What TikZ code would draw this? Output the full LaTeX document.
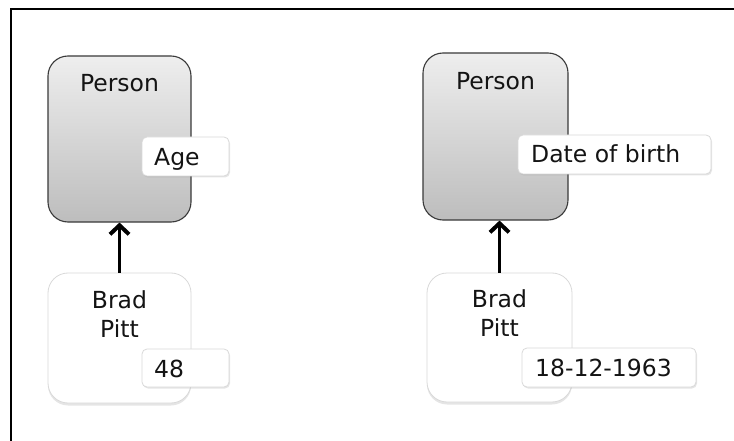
\documentclass[tikz,border=0pt]{standalone}
\usepackage{fontspec}
\setmainfont{DejaVu Sans}
\usetikzlibrary{shadows,arrows.meta}
\definecolor{boxtop}{HTML}{EEEEEE}
\definecolor{boxbot}{HTML}{BDBDBD}
\definecolor{edgegrey}{HTML}{3A3A3A}
\definecolor{softedge}{HTML}{D9D9D9}
\definecolor{inkblack}{HTML}{141414}
\begin{document}
\begin{tikzpicture}[x=1pt,y=-1pt,
  classbox/.style={draw=edgegrey, line width=1.1pt, rounded corners=20pt,
    top color=boxtop, bottom color=boxbot, inner sep=0pt},
  instbox/.style={draw=softedge, line width=0.8pt, rounded corners=20pt, fill=white,
    inner sep=0pt, drop shadow={opacity=0.2, shadow xshift=0pt, shadow yshift=-2.5pt}},
  attrbox/.style={draw=softedge, line width=0.8pt, rounded corners=5pt, fill=white,
    inner sep=0pt, drop shadow={opacity=0.2, shadow xshift=1pt, shadow yshift=-1.5pt}},
  lbl/.style={font=\fontsize{23.5}{29}\selectfont, text=inkblack, inner sep=0pt},
  isa/.style={line width=3.5pt, draw=black,
    -{Straight Barb[length=9pt,width=19pt,line width=4pt 0]}},
  frameline/.style={line width=2pt, draw=black}
]
\useasboundingbox (0,0) rectangle (734,441);
\fill[white] (0,0) rectangle (734,441);

% frame
\coordinate (ftr) at (734,9);
\coordinate (ftl) at (10.5,9);
\coordinate (fbl) at (10.5,441);
\draw[frameline] (ftr) -- (ftl) -- (fbl);

% left side
\node[classbox, minimum width=143pt, minimum height=166pt] (cls1) at (119.5,139) {};
\node[lbl, anchor=base] (cls1t) at (119.5,92) {Person};
\node[attrbox, minimum width=87pt, minimum height=39pt] (att1) at (185.5,156.5) {};
\node[lbl, anchor=base west] (att1t) at (154,166) {Age};

\node[instbox, minimum width=143pt, minimum height=130pt] (ins1) at (119.5,338) {};
\node[lbl, anchor=base, align=center] (ins1t) at (119.5,337) {Brad\\Pitt};
\node[attrbox, minimum width=87pt, minimum height=38pt] (val1) at (185.5,368) {};
\node[lbl, anchor=base west] (val1t) at (154,377) {48};

\draw[isa] (ins1.north) -- (ins1.north |- cls1.south);

% right side
\node[classbox, minimum width=145pt, minimum height=167pt] (cls2) at (495.5,136.5) {};
\node[lbl, anchor=base] (cls2t) at (495.5,90) {Person};
\node[attrbox, minimum width=193pt, minimum height=39pt] (att2) at (614.5,154.5) {};
\node[lbl, anchor=base west] (att2t) at (531,163) {Date of birth};

\node[instbox, minimum width=145pt, minimum height=129pt] (ins2) at (499.5,337.5) {};
\node[lbl, anchor=base, align=center] (ins2t) at (499.5,336) {Brad\\Pitt};
\node[attrbox, minimum width=174pt, minimum height=39pt] (val2) at (609,367.5) {};
\node[lbl, anchor=base west] (val2t) at (535,376) {18-12-1963};

\draw[isa] (ins2.north) -- (ins2.north |- cls2.south);
\end{tikzpicture}
\end{document}
